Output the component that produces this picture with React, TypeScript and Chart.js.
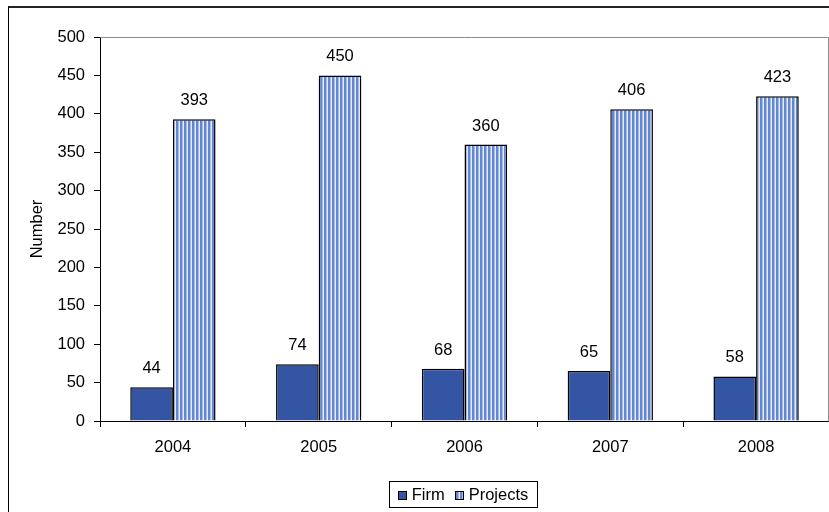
import React, { useEffect, useRef } from "react";
import { Chart, registerables } from "chart.js";

Chart.register(...registerables);

const categories = ["2004", "2005", "2006", "2007", "2008"];
const firmValues = [44, 74, 68, 65, 58];
const projectValues = [393, 450, 360, 406, 423];
const seriesNames = ["Firm", "Projects"];
const yTitle = "Number";

const FONT = "'Liberation Sans', Arial, sans-serif";
const FONT_SIZE = 16.5;

function makeStripePattern(): CanvasPattern | string {
  const c = document.createElement("canvas");
  c.width = 4;
  c.height = 4;
  const g = c.getContext("2d");
  if (!g) return "#7b97d9";
  g.fillStyle = "#e4ebf9";
  g.fillRect(0, 0, 4, 4);
  g.fillStyle = "#6386d2";
  g.fillRect(0, 0, 2, 4);
  g.fillStyle = "#a8bce8";
  g.fillRect(2, 0, 1, 4);
  const p = g.createPattern(c, "repeat");
  return p || "#7b97d9";
}

export default function App() {
  const ref = useRef<HTMLCanvasElement | null>(null);

  useEffect(() => {
    const canvas = ref.current;
    if (!canvas) return;
    const stripe = makeStripePattern();

    const framePlugin = {
      id: "frame",
      beforeDatasetsDraw(chart: any) {
        const { ctx, chartArea } = chart;
        ctx.save();
        ctx.strokeStyle = "#8c8c8c";
        ctx.lineWidth = 1;
        ctx.beginPath();
        ctx.moveTo(Math.round(chartArea.left) + 0.5, Math.round(chartArea.top) + 0.5);
        ctx.lineTo(Math.round(chartArea.right) - 0.5, Math.round(chartArea.top) + 0.5);
        ctx.lineTo(Math.round(chartArea.right) - 0.5, Math.round(chartArea.bottom) + 0.5);
        ctx.stroke();
        ctx.restore();
      },
    };

    const labelPlugin = {
      id: "valueLabels",
      afterDatasetsDraw(chart: any) {
        const { ctx } = chart;
        ctx.save();
        ctx.font = `${FONT_SIZE}px ${FONT}`;
        ctx.fillStyle = "#000";
        ctx.textAlign = "center";
        ctx.textBaseline = "alphabetic";
        chart.data.datasets.forEach((ds: any, i: number) => {
          const meta = chart.getDatasetMeta(i);
          meta.data.forEach((el: any, j: number) => {
            ctx.fillText(String(ds.data[j]), el.x, el.y - 14);
          });
        });
        ctx.restore();
      },
    };

    const legendPlugin = {
      id: "boxLegend",
      afterDraw(chart: any) {
        const { ctx } = chart;
        ctx.save();
        ctx.font = `${FONT_SIZE}px ${FONT}`;
        const sq = 9;
        const gapSq = 5;
        const gapItem = 10;
        const items = chart.data.datasets.map((ds: any) => ({
          label: ds.label,
          color: ds.backgroundColor,
          w: ctx.measureText(ds.label).width,
        }));
        let content = 0;
        items.forEach((it: any, k: number) => {
          content += sq + gapSq + it.w + (k < items.length - 1 ? gapItem : 0);
        });
        const left = 389;
        const width = 148;
        const top = 481;
        const h = 26;
        ctx.strokeStyle = "#000";
        ctx.lineWidth = 1;
        ctx.strokeRect(left + 0.5, top + 0.5, width, h);
        let x = left + (width - content) / 2;
        const midY = top + h / 2 + 1;
        items.forEach((it: any) => {
          const sy = Math.round(midY - sq / 2);
          const sx = Math.round(x);
          ctx.fillStyle = it.color;
          ctx.fillRect(sx, sy, sq, sq);
          ctx.strokeStyle = "#000";
          ctx.strokeRect(sx + 0.5, sy + 0.5, sq - 1, sq - 1);
          x += sq + gapSq;
          ctx.fillStyle = "#000";
          ctx.textAlign = "left";
          ctx.textBaseline = "middle";
          ctx.fillText(it.label, x, midY);
          x += it.w + gapItem;
        });
        ctx.restore();
      },
    };

    const chart = new Chart(canvas, {
      type: "bar",
      data: {
        labels: categories,
        datasets: [
          {
            label: seriesNames[0],
            data: firmValues,
            backgroundColor: "#3454a4",
            borderColor: "#000",
            borderWidth: 1.5,
            categoryPercentage: 0.585,
            barPercentage: 1,
          },
          {
            label: seriesNames[1],
            data: projectValues,
            backgroundColor: stripe as any,
            borderColor: "#000",
            borderWidth: 1.5,
            categoryPercentage: 0.585,
            barPercentage: 1,
          },
        ],
      },
      options: {
        responsive: false,
        animation: false,
        devicePixelRatio: 1,
        layout: { padding: { left: 0, right: 0, top: 37, bottom: 51 } },
        plugins: {
          legend: { display: false },
          tooltip: { enabled: false },
        },
        scales: {
          x: {
            grid: {
              drawOnChartArea: false,
              drawTicks: true,
              tickLength: 6,
              color: "#000",
              offset: true,
            },
            border: { color: "#000", width: 1 },
            ticks: {
              color: "#000",
              padding: 11,
              font: { family: FONT, size: FONT_SIZE },
            },
            afterFit(scale: any) {
              scale.height = 40;
            },
          },
          y: {
            min: 0,
            max: 500,
            grid: {
              drawOnChartArea: false,
              drawTicks: true,
              tickLength: 6,
              color: "#000",
            },
            border: { color: "#000", width: 1 },
            ticks: {
              stepSize: 50,
              color: "#000",
              padding: 9,
              font: { family: FONT, size: FONT_SIZE },
            },
            title: {
              display: true,
              text: yTitle,
              color: "#000",
              padding: { top: 28, bottom: 0 },
              font: { family: FONT, size: FONT_SIZE },
            },
            afterFit(scale: any) {
              scale.width = 100;
            },
          },
        },
      },
      plugins: [framePlugin, labelPlugin, legendPlugin],
    });

    return () => chart.destroy();
  }, []);

  return (
    <>
      <div
        style={{
          position: "fixed",
          left: 8,
          top: 6,
          width: 900,
          height: 600,
          borderLeft: "1px solid #000",
          borderTop: "2px solid #222",
          boxSizing: "border-box",
        }}
      />
      <canvas
        ref={ref}
        width={829}
        height={512}
        style={{ position: "fixed", left: 0, top: 0, width: 829, height: 512 }}
      />
    </>
  );
}
